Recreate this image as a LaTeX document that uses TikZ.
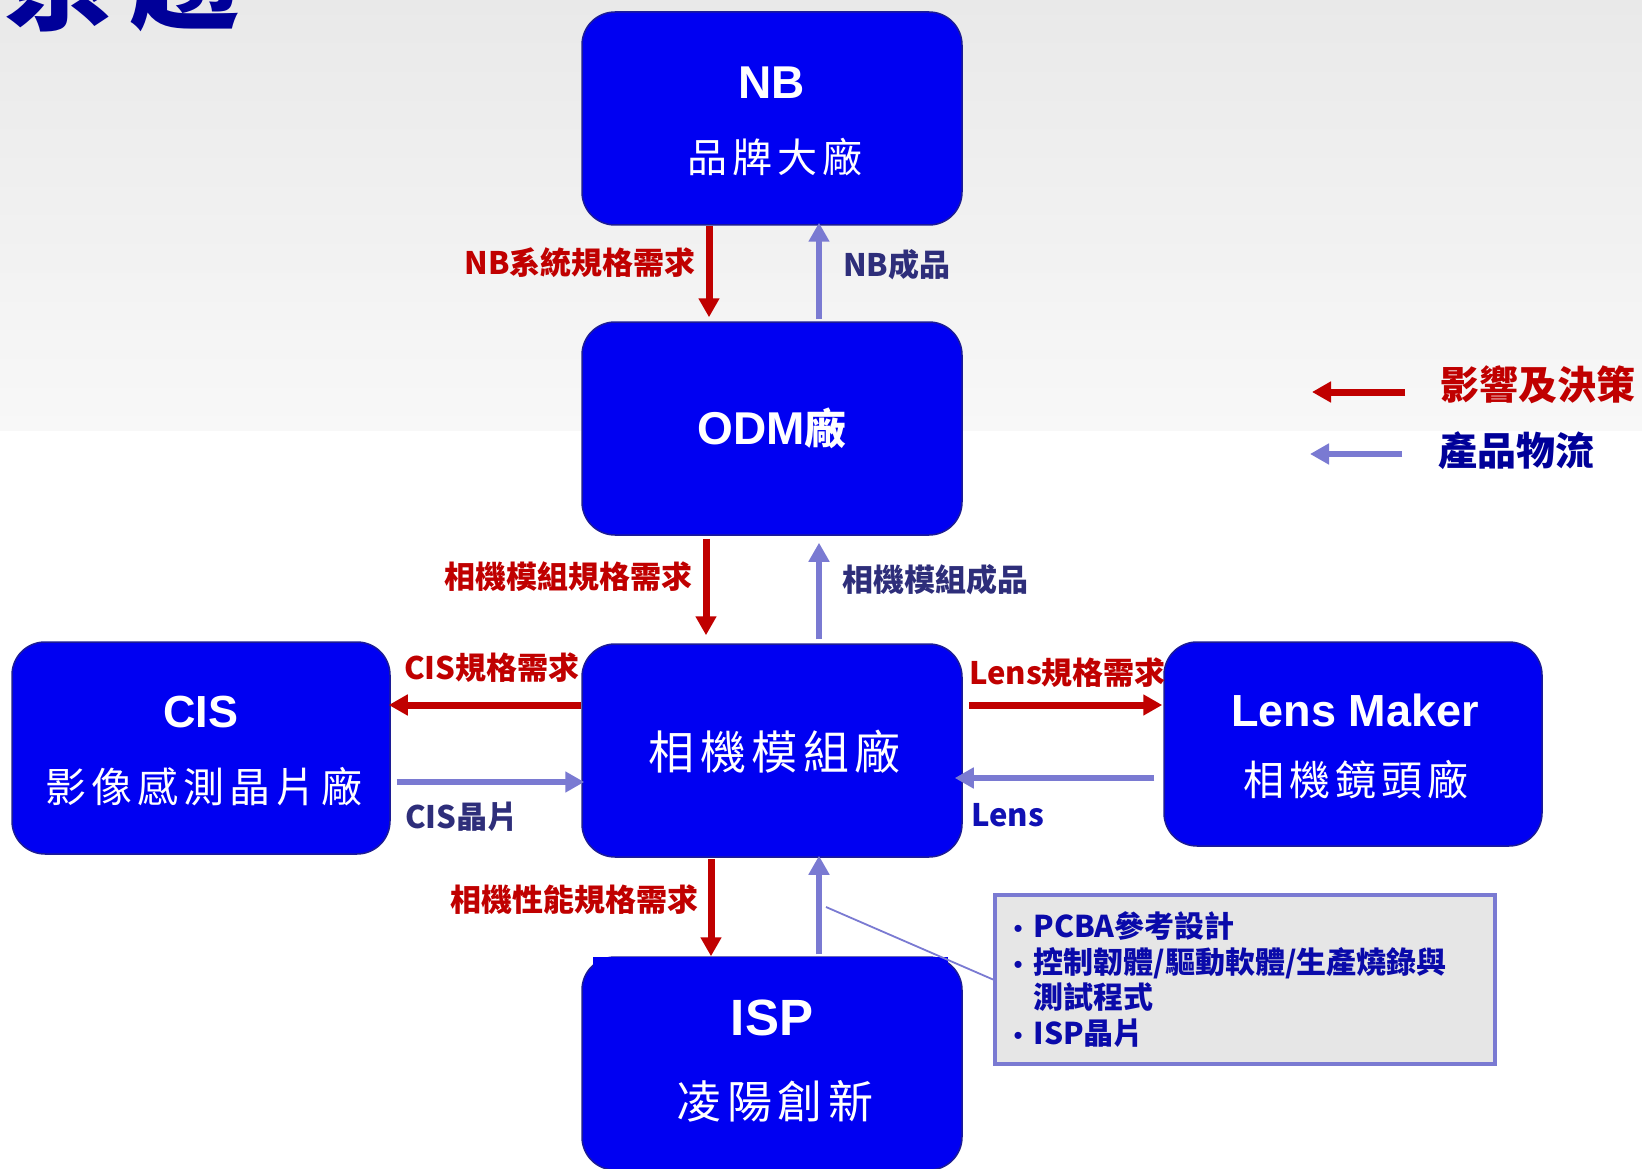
\documentclass[tikz,border=0pt]{standalone}
\usepackage{fontspec}
\setmainfont{Liberation Sans}
\newfontfamily\cjk{Noto Sans CJK TC}
\newfontfamily\cjkbox{Noto Sans CJK TC}[LetterSpace=12]
\usetikzlibrary{arrows.meta}
\definecolor{boxblue}{RGB}{0,0,242}
\definecolor{boxedge}{RGB}{28,28,150}
\definecolor{redarr}{RGB}{192,0,0}
\definecolor{bluearr}{RGB}{122,122,210}
\definecolor{navy}{RGB}{46,46,122}
\definecolor{lensblue}{RGB}{16,16,180}
\definecolor{legblue}{RGB}{0,0,153}
\definecolor{notetext}{RGB}{10,10,170}
\definecolor{notefill}{RGB}{230,230,230}
\definecolor{bgtop}{RGB}{233,233,233}
\definecolor{bgmid}{RGB}{248,248,248}
\newcommand\notebullet{\makebox[20pt][l]{{\rmfamily\mdseries\fontsize{26pt}{26pt}\selectfont •}}}
\begin{document}
\begin{tikzpicture}[x=1pt,y=-1pt,
  box/.style={draw=boxedge,line width=1.5pt,fill=boxblue,rounded corners=33pt,minimum width=380pt,minimum height=213pt,inner sep=0pt},
  latinbox/.style={text=white,inner sep=0pt,font=\bfseries\fontsize{#1pt}{#1pt}\selectfont},
  cjkboxtext/.style={text=white,inner sep=0pt,font=\cjkbox\fontsize{#1pt}{#1pt}\selectfont},
  redarrow/.style={draw=redarr,line width=7pt,-{Triangle[length=19pt,width=20pt]}},
  bluearrow/.style={draw=bluearr,line width=6.5pt,-{Triangle[length=19pt,width=20pt]}},
  redlab/.style={text=redarr,inner sep=0pt,font=\cjk\bfseries\fontsize{31pt}{31pt}\selectfont},
  bluelab/.style={text=navy,inner sep=0pt,font=\cjk\bfseries\fontsize{31pt}{31pt}\selectfont},
  legtext/.style={inner sep=0pt,font=\cjk\bfseries\fontsize{39pt}{39pt}\selectfont},
  titletext/.style={text=legblue,inner sep=0pt,font=\cjk\bfseries\fontsize{110pt}{110pt}\selectfont}
]
\useasboundingbox (0,0) rectangle (1642,1169);
\clip (0,0) rectangle (1642,1169);
% background
\fill[white] (0,0) rectangle (1642,1169);
\shade[top color=bgtop,bottom color=bgmid] (0,0) rectangle (1642,430);
% title (cut off at top, as in the reference)
\node[titletext,anchor=base] (t1) at (60,22) {系};
\node[titletext,anchor=base] (t2) at (185,22) {趨};
% boxes
\node[box] (nb) at (772,118.5) {};
\node[box] (odm) at (772,428.5) {};
\node[box] (cam) at (772,750.5) {};
\node[box] (isp) at (772,1063.5) {};
\fill[boxblue] (593,957) rectangle (948,985);
\node[box,minimum width=378pt,minimum height=212pt] (cis) at (201,748) {};
\node[box,minimum width=378pt,minimum height=204pt] (lens) at (1353,744) {};
% box texts
\node[latinbox=46] (nbA) at (772,83) {NB};
\node[cjkboxtext=40] (nbB) at (775,157) {品牌大廠};
\node[latinbox=46] (odmA) at (772,428) {ODM{\cjkbox\fontsize{42pt}{42pt}\selectfont 廠}};
\node[cjkboxtext=46] (camA) at (775,752) {相機模組廠};
\node[latinbox=45] (cisA) at (201,712) {CIS};
\node[cjkboxtext=41] (cisB) at (204,787) {影像感測晶片廠};
\node[latinbox=45] (lensA) at (1355,710) {Lens Maker};
\node[cjkboxtext=41] (lensB) at (1356,780) {相機鏡頭廠};
\node[latinbox=51] (ispA) at (772,1018) {ISP};
\node[cjkboxtext=45] (ispB) at (775,1101) {凌陽創新};
% helper coordinates
\coordinate (rxa) at (709,0);
\coordinate (rxb) at (706,0);
\coordinate (rxc) at (711,0);
\coordinate (bx) at (819,0);
\coordinate (ry) at (0,705);
\coordinate (byl) at (0,782);
\coordinate (byr) at (0,778);
% vertical arrows
\draw[redarrow,shorten >=4pt] (nb.south -| rxa) -- (odm.north -| rxa);
\draw[bluearrow,shorten <=2pt,shorten >=-3pt] (odm.north -| bx) -- (nb.south -| bx);
\draw[redarrow,shorten <=3pt,shorten >=8pt] (odm.south -| rxb) -- (cam.north -| rxb);
\draw[bluearrow,shorten <=4pt,shorten >=7pt] (cam.north -| bx) -- (odm.south -| bx);
\draw[redarrow,shorten <=1pt,shorten >=0pt] (cam.south -| rxc) -- (isp.north -| rxc);
\draw[bluearrow,shorten <=2pt,shorten >=-2pt] (isp.north -| bx) -- (cam.south -| bx);
% horizontal arrows
\draw[redarrow,shorten >=-2pt] (cam.west |- ry) -- (cis.east |- ry);
\draw[bluearrow,shorten <=6pt,shorten >=-3pt] (cis.east |- byl) -- (cam.west |- byl);
\draw[redarrow,shorten <=6pt,shorten >=1pt] (cam.east |- ry) -- (lens.west |- ry);
\draw[bluearrow,shorten <=9pt,shorten >=-8pt] (lens.west |- byr) -- (cam.east |- byr);
% labels
\node[redlab,anchor=east] (l1) at (696,263) {NB系統規格需求};
\node[bluelab,anchor=west] (l2) at (843,265) {NB成品};
\node[redlab,anchor=east] (l3) at (693,577) {相機模組規格需求};
\node[bluelab,anchor=west] (l4) at (842,580) {相機模組成品};
\node[redlab,anchor=west] (l5) at (404,668) {CIS規格需求};
\node[bluelab,anchor=west] (l6) at (405,817) {CIS晶片};
\node[redlab,anchor=west] (l7) at (969,673) {Lens規格需求};
\node[bluelab,anchor=west,text=lensblue] (l8) at (971,815) {Lens};
\node[redlab,anchor=east] (l9) at (699,900) {相機性能規格需求};
% note box and callout
\node[draw=bluearr,line width=4pt,fill=notefill,minimum width=500pt,minimum height=169pt,
      text width=463pt,inner xsep=18pt,inner ysep=0pt,align=left,text=notetext,
      font=\cjk\bfseries\fontsize{30pt}{35.5pt}\selectfont] (note) at (1245,979.5)
  {\notebullet PCBA參考設計\\
   \notebullet 控制韌體/驅動軟體/生產燒錄與\\
   \makebox[20pt][l]{}測試程式\\
   \notebullet ISP晶片};
\coordinate (cl) at (826,907);
\draw[bluearr,line width=1.8pt] (cl) -- (note.west);
% legend
\coordinate (lr1) at (1405,392);
\coordinate (lr2) at (1312,392);
\coordinate (lb1) at (1402,454);
\coordinate (lb2) at (1310,454);
\draw[redarrow] (lr1) -- (lr2);
\draw[bluearrow] (lb1) -- (lb2);
\node[legtext,text=redarr,anchor=west] (lg1) at (1440,385) {影響及決策};
\node[legtext,text=legblue,anchor=west] (lg2) at (1438,451) {產品物流};
\end{tikzpicture}
\end{document}
